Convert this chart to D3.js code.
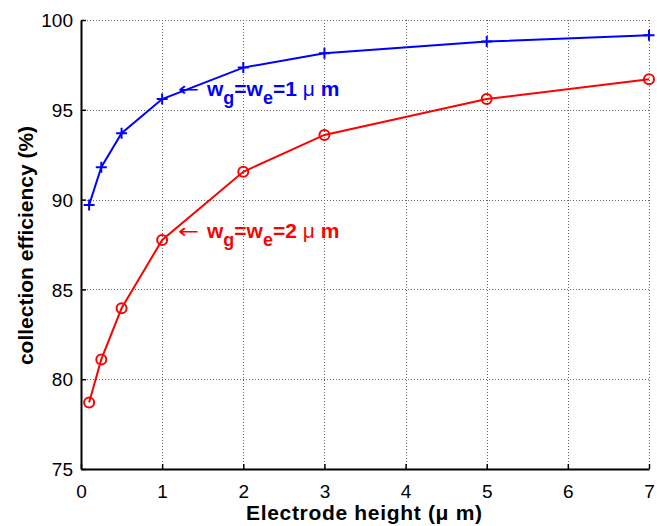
<!DOCTYPE html>
<html>
<head>
<meta charset="utf-8">
<script src="https://cdn.jsdelivr.net/npm/d3@7"></script>
<style>
  html, body { margin: 0; padding: 0; background: #fff; }
  svg { display: block; font-family: "Liberation Sans", Arial, Helvetica, sans-serif; }
</style>
</head>
<body>
<svg id="chart" width="657" height="526"></svg>
<script>
// Electrode height (µm) at which the collection efficiency was computed
const heights = [0.1, 0.25, 0.5, 1, 2, 3, 5, 7];
// Collection efficiency (%) for the two gap/electrode widths
const effW1 = [89.7, 91.8, 93.7, 95.6, 97.35, 98.15, 98.8, 99.15];
const effW2 = [78.7, 81.1, 83.95, 87.75, 91.55, 93.6, 95.6, 96.7];
const xTicks = [0, 1, 2, 3, 4, 5, 6, 7];
const yTicks = [75, 80, 85, 90, 95, 100];

const svg = d3.select("#chart");
const plotLeft = 81, plotRight = 649, plotTop = 20, plotBottom = 469;

const x = d3.scaleLinear().domain([0, 7]).range([plotLeft, plotRight]);
const y = d3.scaleLinear().domain([75, 100]).range([plotBottom, plotTop]);

// dotted grid
const grid = svg.append("g").attr("stroke", "#666").attr("stroke-width", 1)
  .attr("stroke-dasharray", "1,2");
grid.selectAll(".gx").data(xTicks.slice(1)).join("line")
  .attr("x1", d => Math.round(x(d)) + 0.5).attr("x2", d => Math.round(x(d)) + 0.5)
  .attr("y1", plotTop).attr("y2", plotBottom);
grid.selectAll(".gy").data(yTicks.slice(1)).join("line")
  .attr("y1", d => Math.round(y(d)) + 0.5).attr("y2", d => Math.round(y(d)) + 0.5)
  .attr("x1", plotLeft).attr("x2", plotRight);

// axes with inward ticks
const xAxis = d3.axisBottom(x).tickValues(xTicks).tickFormat(d3.format("d"))
  .tickSizeInner(-5).tickSizeOuter(0).tickPadding(16);
const yAxis = d3.axisLeft(y).tickValues(yTicks).tickFormat(d3.format("d"))
  .tickSizeInner(-5).tickSizeOuter(0).tickPadding(8);

const gx = svg.append("g").attr("transform", `translate(0,${plotBottom})`).call(xAxis);
const gy = svg.append("g").attr("transform", `translate(${plotLeft},0)`).call(yAxis);
[gx, gy].forEach(g => {
  g.select(".domain").attr("stroke", "#000").attr("stroke-width", 2);
  g.selectAll(".tick line").attr("stroke", "#000").attr("stroke-width", 1.5);
  g.selectAll(".tick text").attr("fill", "#000").attr("font-size", 19)
    .attr("font-family", "Liberation Sans, Arial, sans-serif");
});
gx.selectAll(".tick text").attr("dy", "0.71em");
gy.selectAll(".tick text").attr("dy", "0.35em");

// axis titles
svg.append("text").attr("x", 364).attr("y", 520)
  .attr("text-anchor", "middle").attr("font-size", 21).attr("font-weight", "bold")
  .attr("textLength", 236).attr("lengthAdjust", "spacing")
  .text("Electrode height (\u03bc m)");
svg.append("text").attr("transform", `translate(33,${(plotTop + plotBottom) / 2 + 1}) rotate(-90)`)
  .attr("text-anchor", "middle").attr("font-size", 21).attr("font-weight", "bold")
  .text("collection efficiency (%)");

const line = d3.line().x(d => x(d[0])).y(d => y(d[1]));

function drawSeries(vals, color, marker) {
  const pts = heights.map((h, i) => [h, vals[i]]);
  svg.append("path").datum(pts).attr("d", line)
    .attr("fill", "none").attr("stroke", color).attr("stroke-width", 2);
  const g = svg.append("g").attr("stroke", color).attr("stroke-width", 2).attr("fill", "none");
  if (marker === "plus") {
    g.selectAll("path").data(pts).join("path")
      .attr("d", d => `M${x(d[0]) - 5.5},${y(d[1])}h11M${x(d[0])},${y(d[1]) - 5.5}v11`);
  } else {
    g.selectAll("circle").data(pts).join("circle")
      .attr("cx", d => x(d[0])).attr("cy", d => y(d[1])).attr("r", 5);
  }
}
drawSeries(effW1, "#0000ff", "plus");
drawSeries(effW2, "#ff0000", "circle");

// curve annotations: thin arrow pointing back at the curve, then the label
function annotate(px, py, color, width) {
  svg.append("text").attr("x", px).attr("y", py).attr("fill", color)
    .attr("font-family", "DejaVu Sans").attr("font-size", 20)
    .attr("textLength", 21).attr("lengthAdjust", "spacingAndGlyphs")
    .text("\u2190");
  const t = svg.append("text").attr("x", px + 29).attr("y", py).attr("fill", color)
    .attr("font-size", 21).attr("font-weight", "bold");
  t.append("tspan").text("w");
  t.append("tspan").attr("font-size", 18).attr("dy", 8).text("g");
  t.append("tspan").attr("dy", -8).text("=w");
  t.append("tspan").attr("font-size", 18).attr("dy", 8).text("e");
  t.append("tspan").attr("dy", -8).text("=" + width + " ");
  t.append("tspan").attr("font-weight", "normal").text("\u03bc");
  t.append("tspan").text("   m");
}
annotate(178, 96, "#0000ff", 1);
annotate(178, 238, "#ff0000", 2);
</script>
</body>
</html>
